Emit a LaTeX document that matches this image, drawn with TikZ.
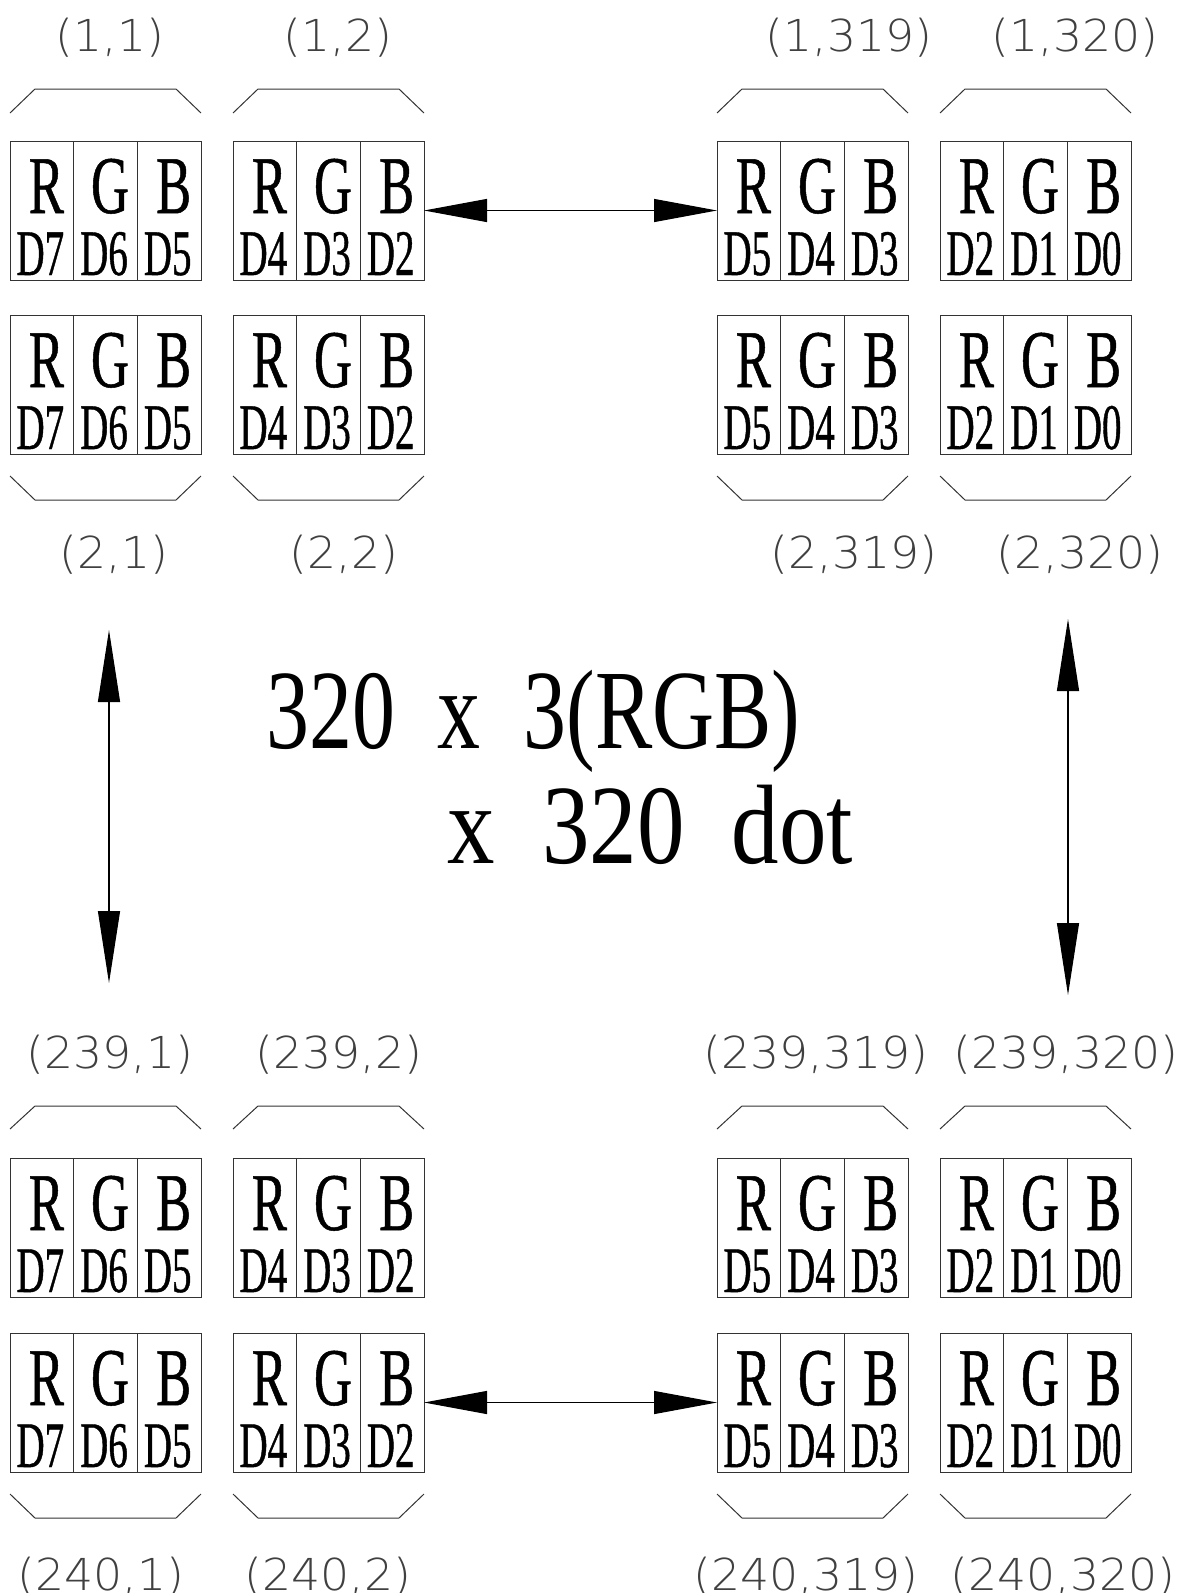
\documentclass[tikz,border=0pt]{standalone}
\usepackage{fontspec}
\usetikzlibrary{arrows.meta,calc}
\newfontfamily\rgbfont[FakeStretch=0.64,FakeBold=0.6]{Liberation Serif}
\newfontfamily\bitfont[FakeStretch=0.6,FakeBold=0.6]{Liberation Serif}
\newfontfamily\bigfont[FakeStretch=0.76]{Liberation Serif}
\newfontfamily\widefont[FakeStretch=0.84]{Liberation Serif}
\newfontfamily\cadfont[FakeStretch=1.04]{DejaVuSans-ExtraLight.ttf}

\begin{document}
\begin{tikzpicture}[x=1pt,y=-1pt,
cell/.style={draw=black!80,line width=1pt,minimum width=63.67pt,minimum height=139pt,inner sep=0pt,outer sep=0pt,anchor=north west},
chan/.style={anchor=base,inner sep=0pt,text height=54pt,text depth=0pt,font={\rgbfont\fontsize{82}{82}\selectfont}},
bitno/.style={anchor=base,inner sep=0pt,text height=44pt,text depth=0pt,font={\bitfont\fontsize{65}{65}\selectfont}},
coord/.style={anchor=base,inner sep=0pt,text=black!75,font={\cadfont\fontsize{44}{44}\selectfont}},
bigtext/.style={anchor=base west,inner sep=0pt,font={\bigfont\fontsize{113}{113}\selectfont}},
brace/.style={draw=black!80,line width=1pt},
harrow/.style={line width=1.2pt,{Triangle[length=63pt,width=23pt]}-{Triangle[length=63pt,width=23pt]}},
varrow/.style={line width=1.2pt,{Triangle[length=72pt,width=22pt]}-{Triangle[length=72pt,width=22pt]}}]
\useasboundingbox(0,0)rectangle(1191,1593);
% pixel groups: R G B cells with data bits
\foreach \row/\top/\cl/\cr/\oa/\ob in {a/141/north west/north east/-28/-52,b/315/south west/south east/22/46,y/1158/north west/north east/-29/-52,z/1333/south west/south east/22/46}{
\foreach \col/\lft/\dr/\dg/\db in {1/10/7/6/5,2/233/4/3/2,319/717/5/4/3,320/940/2/1/0}{
\node[cell](\row\col-R)at(\lft,\top){};
\node[cell](\row\col-G)at(\lft+63.67,\top){};
\node[cell](\row\col-B)at(\lft+127.33,\top){};
\foreach \ch/\bit in {R/\dr,G/\dg,B/\db}{
\node[chan](\row\col-\ch c)at($(\row\col-\ch.north)+(4.5,72)$){\ch};
\node[bitno](\row\col-\ch d)at($(\row\col-\ch.north)+(-1.5,134)$){D\bit};}
\draw[brace]($(\row\col-R.\cl)+(0,\oa)$)--++(25,{\ob-(\oa)})--($(\row\col-B.\cr)+(-25,\ob)$)--++(25,{\oa-(\ob)});
}}
% coordinates of the pixels
\foreach \nm/\x/\y/\t in {a1/110/51/{(1,1)},a2/338/51/{(1,2)},a319/849/51/{(1,319)},a320/1075/51/{(1,320)},
b1/114/568/{(2,1)},b2/344/568/{(2,2)},b319/854/568/{(2,319)},b320/1080/568/{(2,320)},
y1/110/1068/{(239,1)},y2/339/1068/{(239,2)},y319/816/1068/{(239,319)},y320/1066/1068/{(239,320)},
z1/101/1590/{(240,1)},z2/328/1590/{(240,2)},z319/806/1590/{(240,319)},z320/1063/1590/{(240,320)}}
\node[coord](lab-\nm)at(\x,\y){\t};
% size
\node[bigtext](dim1)at(266,748){320~~x~~3(RGB)};
\node[bigtext,font={\widefont\fontsize{113}{113}\selectfont}](dim2)at(447,863){x~~320~~dot};
% arrows
\draw[harrow](a2-B.east)--(a319-R.west);
\draw[harrow](z2-B.east)--(z319-R.west);
\coordinate(lt)at(109,630);\coordinate(lb)at(109,983);
\coordinate(rt)at(1068,619);\coordinate(rb)at(1068,995);
\draw[varrow](lt)--(lb);\draw[varrow](rt)--(rb);
\end{tikzpicture}
\end{document}
